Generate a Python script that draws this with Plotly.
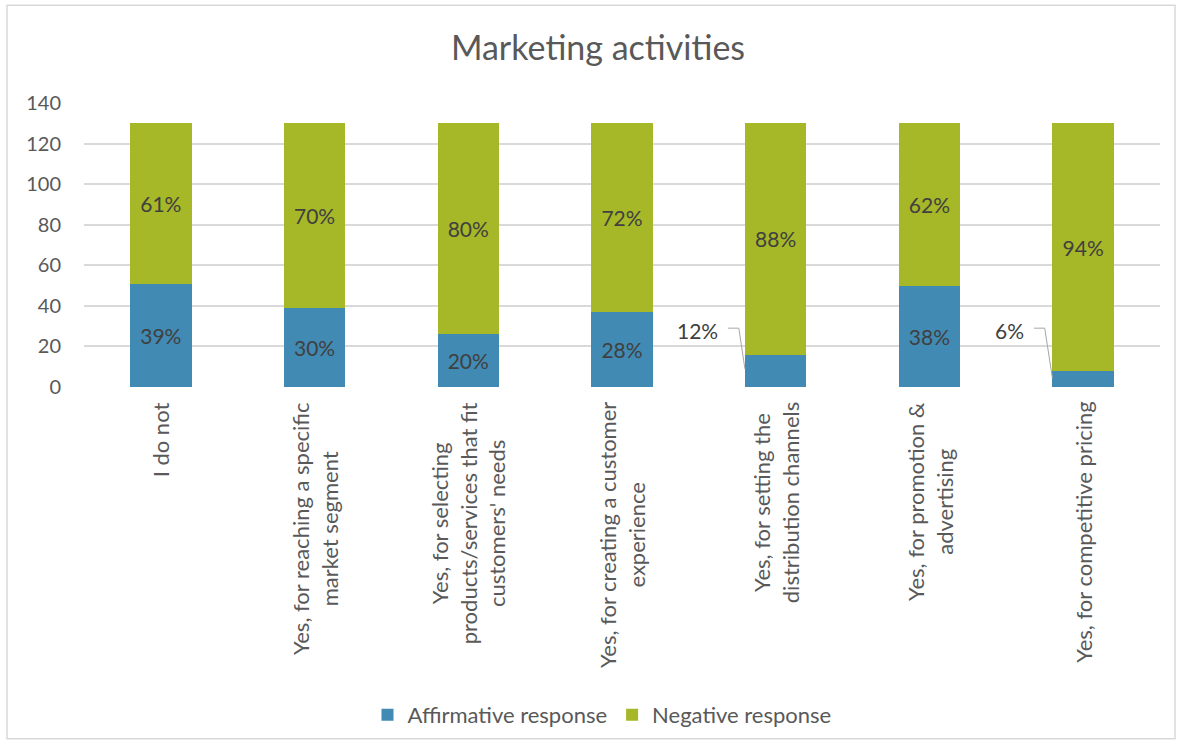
import plotly.graph_objects as go

# Survey: use of marketing activities (counts out of 130 respondents)
categories = [
    "I do not",
    "Yes, for reaching a specific<br>market segment",
    "Yes, for selecting<br>products/services that fit<br>customers' needs",
    "Yes, for creating a customer<br>experience",
    "Yes, for setting the<br>distribution channels",
    "Yes, for promotion &<br>advertising",
    "Yes, for competitive pricing",
]
affirmative = [51, 39, 26, 37, 16, 50, 8]
negative = [79, 91, 104, 93, 114, 80, 122]
y_ticks = [0, 20, 40, 60, 80, 100, 120, 140]

BLUE = "#418AB3"
GREEN = "#A6B727"
TEXT = "#595959"
LABEL = "#404040"
GRID = "#D9D9D9"
FONT = "Lato"

W, H = 1181, 746
L, R, T, B = 84, 1160, 103, 388   # plot area in pixels

totals = [a + n for a, n in zip(affirmative, negative)]
aff_pct = [round(a / t * 100) for a, t in zip(affirmative, totals)]
neg_pct = [round(n / t * 100) for n, t in zip(negative, totals)]

# segments too short to hold their label get an outside callout instead
SMALL = 20
aff_text = ["" if a < SMALL else f"{p}%" for a, p in zip(affirmative, aff_pct)]
neg_text = [f"{p}%" for p in neg_pct]

x = list(range(len(categories)))

fig = go.Figure()
fig.add_trace(go.Bar(
    x=x, y=affirmative, name="Affirmative response", marker_color=BLUE,
    marker_line_width=0, width=0.4, text=aff_text, textposition="inside",
    insidetextanchor="middle", textangle=0,
    textfont=dict(family=FONT, size=21, color=LABEL), hoverinfo="skip",
))
fig.add_trace(go.Bar(
    x=x, y=negative, name="Negative response", marker_color=GREEN,
    marker_line_width=0, width=0.4, text=neg_text, textposition="inside",
    insidetextanchor="middle", textangle=0,
    textfont=dict(family=FONT, size=21, color=LABEL), hoverinfo="skip",
))

annotations = []
# callouts with elbow leader lines for the short segments
for i, (a, p) in enumerate(zip(affirmative, aff_pct)):
    if a >= SMALL:
        continue
    label_right = -0.37 if i == 6 else -0.36
    start = label_right + 0.05
    corner = start + 0.07
    fig.add_trace(go.Scatter(
        x=[i + start, i + corner, i - 0.2],
        y=[29, 29, a * 0.55],
        mode="lines", line=dict(color="#A6A6A6", width=1),
        showlegend=False, hoverinfo="skip",
    ))
    annotations.append(dict(
        x=i + label_right, y=28, xref="x", yref="y", text=f"{p}%",
        showarrow=False, xanchor="right", yanchor="middle",
        font=dict(family=FONT, size=21, color=LABEL),
    ))

# rotated category labels, lines centred like the source workbook
for i, c in enumerate(categories):
    annotations.append(dict(
        x=i, y=0, xref="x", yref="y", text=c, textangle=-90,
        showarrow=False, xanchor="center", yanchor="top", yshift=-13,
        align="center", font=dict(family=FONT, size=22, color=TEXT),
    ))

def px_x(p):
    return (p - L) / (R - L)

def px_y(p):
    return (B - p) / (B - T)

fig.update_layout(
    width=W, height=H,
    margin=dict(l=L, r=W - R, t=T, b=H - B),
    paper_bgcolor="white", plot_bgcolor="white",
    barmode="stack", bargap=0.6,
    font=dict(family=FONT, color=TEXT),
    title=dict(
        text="Marketing activities", x=598 / W, xref="container",
        xanchor="center", y=1 - 48 / H, yref="container", yanchor="middle",
        font=dict(family=FONT, size=34, color=TEXT),
    ),
    xaxis=dict(
        range=[-0.5, len(categories) - 0.5], showticklabels=False,
        showgrid=False, zeroline=False, showline=False, ticks="",
        fixedrange=True,
    ),
    yaxis=dict(
        range=[0, 140], tickvals=y_ticks, showgrid=True, gridcolor=GRID,
        gridwidth=1.5, zeroline=False, showline=False, ticks="",
        ticklabelstandoff=22, tickfont=dict(family=FONT, size=20, color=TEXT),
    ),
    legend=dict(
        orientation="h", x=px_x(602), xanchor="center", y=px_y(715),
        yanchor="middle", font=dict(family=FONT, size=22, color=TEXT),
        itemwidth=30, traceorder="normal",
    ),
    annotations=annotations,
    shapes=[dict(
        type="rect", xref="paper", yref="paper",
        x0=px_x(7), x1=px_x(1175), y0=px_y(741), y1=px_y(5),
        line=dict(color=GRID, width=1.5), fillcolor="rgba(0,0,0,0)",
        layer="below",
    )],
    showlegend=True,
)

fig.write_html("out.html")
